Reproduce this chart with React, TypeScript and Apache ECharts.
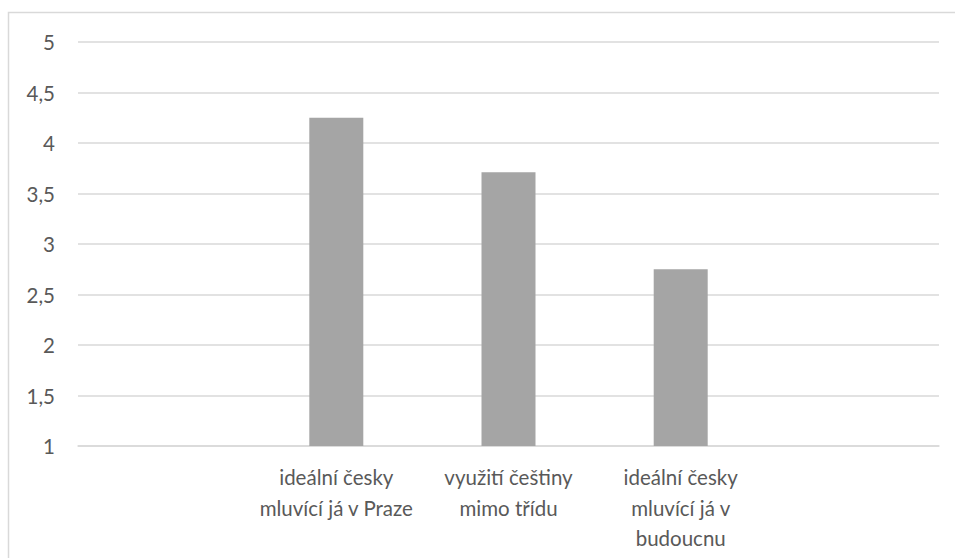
import React, { useEffect, useRef } from "react";
import * as echarts from "echarts";

// Category slots (first and last are empty, as in the original workbook range)
const categories: string[] = [
  "",
  "ideální česky\nmluvící já v Praze",
  "využití češtiny\nmimo třídu",
  "ideální česky\nmluvící já v\nbudoucnu",
  "",
];
const values: (number | null)[] = [null, 4.25, 3.71, 2.75, null];
const yMin = 1;
const yMax = 5;
const yStep = 0.5;

const FONT = "Lato, 'Open Sans', 'Noto Sans', sans-serif";

export default function App() {
  const ref = useRef<HTMLDivElement>(null);

  useEffect(() => {
    if (!ref.current) return;
    const chart = echarts.init(ref.current, undefined, { renderer: "svg" });
    chart.setOption({
      animation: false,
      backgroundColor: "#ffffff",
      textStyle: { fontFamily: FONT },
      grid: { left: 78, right: 16, top: 42, bottom: 112 },
      graphic: [
        {
          type: "rect",
          shape: { x: 8.5, y: 12.5, width: 1000, height: 600 },
          style: { fill: "none", stroke: "#d9d9d9", lineWidth: 1.5 },
          silent: true,
        },
      ],
      xAxis: {
        type: "category",
        data: categories,
        axisLine: { show: true, lineStyle: { color: "#d9d9d9", width: 1.5 } },
        axisTick: { show: false },
        axisLabel: {
          interval: 0,
          margin: 16,
          color: "#595959",
          fontSize: 20.5,
          lineHeight: 30.5,
          fontFamily: FONT,
        },
      },
      yAxis: {
        type: "value",
        min: yMin,
        max: yMax,
        interval: yStep,
        axisLine: { show: false },
        axisTick: { show: false },
        splitLine: { lineStyle: { color: "#d9d9d9", width: 1.5 } },
        axisLabel: {
          margin: 23,
          color: "#595959",
          fontSize: 20.5,
          fontFamily: FONT,
          formatter: (v: number) => String(v).replace(".", ","),
        },
      },
      series: [
        {
          type: "bar",
          data: values,
          barWidth: 54,
          itemStyle: { color: "#a5a5a5" },
        },
      ],
    });
    return () => chart.dispose();
  }, []);

  return (
    <div
      ref={ref}
      style={{ position: "absolute", left: 0, top: 0, width: 955, height: 558 }}
    />
  );
}
